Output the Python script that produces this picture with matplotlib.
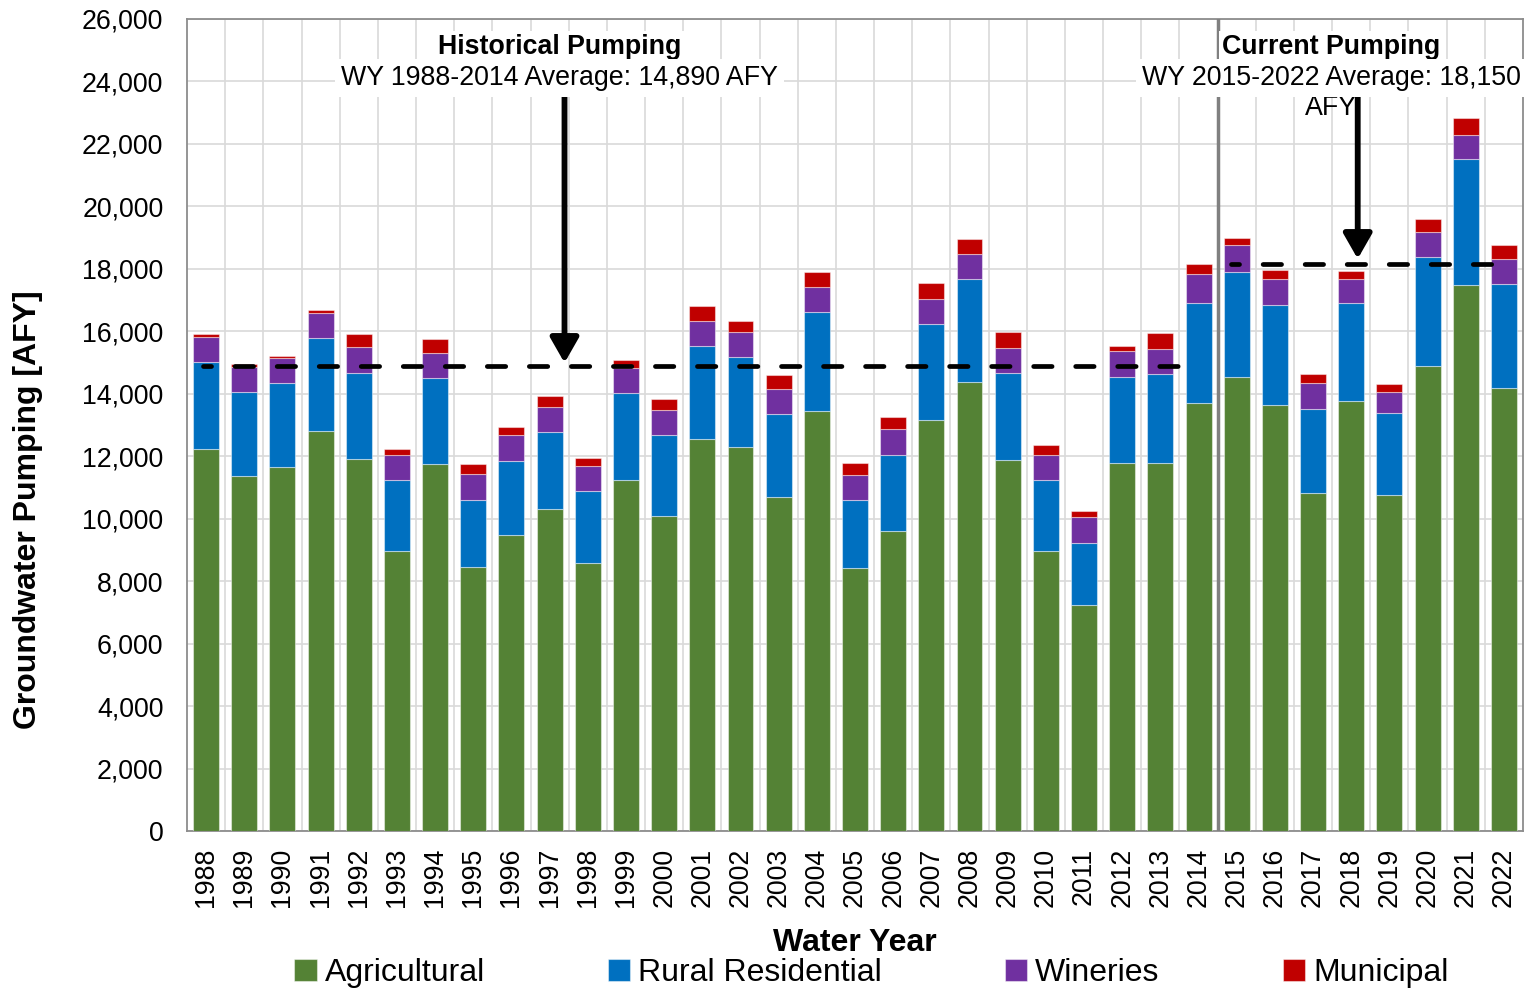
import numpy as np
import matplotlib
matplotlib.use("Agg")
import matplotlib.pyplot as plt
from matplotlib.ticker import FuncFormatter

plt.rcParams["font.family"] = ["Liberation Sans", "DejaVu Sans"]

# water years and pumping by sector (AFY)
years = list(range(1988, 2023))
agricultural = [12240, 11380, 11660, 12800, 11900, 8970, 11740, 8450, 9480, 10310,
                8580, 11240, 10100, 12550, 12300, 10690, 13440, 8420, 9600, 13170,
                14380, 11880, 8960, 7250, 11770, 11770, 13700,
                14530, 13640, 10830, 13770, 10770, 14880, 17470, 14195]
rural_res = [2780, 2670, 2680, 2980, 2775, 2260, 2770, 2150, 2380, 2457,
             2300, 2775, 2575, 2980, 2870, 2650, 3170, 2170, 2450, 3070,
             3290, 2776, 2270, 1960, 2775, 2850, 3210,
             3370, 3190, 2670, 3150, 2625, 3490, 4035, 3320]
wineries = [810, 800, 790, 810, 813, 810, 810, 820, 810, 810,
            800, 810, 800, 810, 800, 810, 810, 800, 810, 790,
            800, 810, 810, 835, 810, 800, 920,
            855, 840, 830, 750, 660, 800, 780, 800]
municipal = [90, 105, 75, 90, 416, 200, 420, 320, 280, 343,
             265, 256, 350, 470, 350, 460, 480, 385, 405, 510,
             480, 512, 320, 210, 180, 510, 320,
             235, 290, 290, 275, 265, 425, 545, 460]

hist_avg = 14890
curr_avg = 18150

series = [("Agricultural", agricultural, "#548235"),
          ("Rural Residential", rural_res, "#0070C0"),
          ("Wineries", wineries, "#7030A0"),
          ("Municipal", municipal, "#C00000")]

fig = plt.figure(figsize=(15.3, 9.92), dpi=100)
ax = fig.add_axes([187 / 1530, 1 - 831 / 992, 1336 / 1530, 812 / 992])

x = np.arange(len(years))
bottom = np.zeros(len(years))
for name, vals, col in series:
    ax.bar(x, vals, width=0.68, bottom=bottom, color=col, label=name,
           edgecolor=(1, 1, 1, 0.45), linewidth=0.8, zorder=3)
    bottom += np.array(vals)

ax.set_xlim(-0.5, len(years) - 0.5)
ax.set_ylim(0, 26000)
ax.set_yticks(np.arange(0, 26001, 2000))
ax.yaxis.set_major_formatter(FuncFormatter(lambda v, p: f"{int(v):,}"))
ax.set_xticks(x)
ax.set_xticklabels([str(y) for y in years], rotation=90)
ax.set_xticks(x[:-1] + 0.5, minor=True)
ax.tick_params(axis="both", which="both", length=0, labelsize=19.3)
ax.tick_params(axis="y", pad=17)
ax.tick_params(axis="x", pad=12)

ax.grid(axis="y", color="#d9d9d9", lw=1.2, zorder=0)
ax.grid(axis="x", which="minor", color="#d9d9d9", lw=1.2, zorder=0)
ax.set_axisbelow(True)
for s in ax.spines.values():
    s.set_color("#8c8c8c")
    s.set_linewidth(1.3)

# split between historical and current periods
ax.axvline(26.5, color="#808080", lw=2.5, zorder=4)

# average lines
dash = (2.2, (3.9, 5.0))
ax.plot([-0.08, 25.73], [hist_avg, hist_avg], color="black", lw=3.4,
        ls=dash, dash_capstyle="round", zorder=5)
ax.plot([26.86, 33.9], [curr_avg, curr_avg], color="black", lw=3.4,
        ls=dash, dash_capstyle="round", zorder=5)

arrow = dict(arrowstyle="-|>,head_length=0.42,head_width=0.24", lw=4.2,
             color="black", mutation_scale=36, shrinkA=0, shrinkB=0)
ax.annotate("", xy=(9.39, 14990), xytext=(9.39, 23700), arrowprops=arrow, zorder=6)
ax.annotate("", xy=(30.17, 18320), xytext=(30.17, 23900), arrowprops=arrow, zorder=6)

box = dict(facecolor="white", edgecolor="none", pad=2)
ax.text(9.26, 25100, "Historical Pumping", ha="center", va="center",
        fontsize=19.3, fontweight="bold", bbox=box, zorder=7)
ax.text(9.26, 24110, "WY 1988-2014 Average: 14,890 AFY", ha="center", va="center",
        fontsize=19.3, bbox=dict(facecolor="white", edgecolor="none", pad=4), zorder=7)
ax.text(29.47, 25100, "Current Pumping", ha="center", va="center",
        fontsize=19.3, fontweight="bold", bbox=box, zorder=7)
ax.text(29.47, 24110, "WY 2015-2022 Average: 18,150", ha="center", va="center",
        fontsize=19.3, bbox=dict(facecolor="white", edgecolor="none", pad=4), zorder=7)
ax.text(29.47, 23150, "AFY", ha="center", va="center", fontsize=19.3, zorder=5)

fig.text(855 / 1530, 1 - 943 / 992, "Water Year", ha="center", va="center",
         fontsize=23, fontweight="bold")
fig.text(28 / 1530, 1 - 510 / 992, "Groundwater Pumping [AFY]", ha="center",
         va="center", rotation=90, fontsize=23, fontweight="bold")

fig.legend(loc="center", bbox_to_anchor=(0.5695, 1 - 973 / 992), ncol=4, frameon=False,
           fontsize=23, handlelength=0.7, handleheight=0.7, handletextpad=0.25,
           columnspacing=3.85)

fig.savefig("out.png", dpi=100)
